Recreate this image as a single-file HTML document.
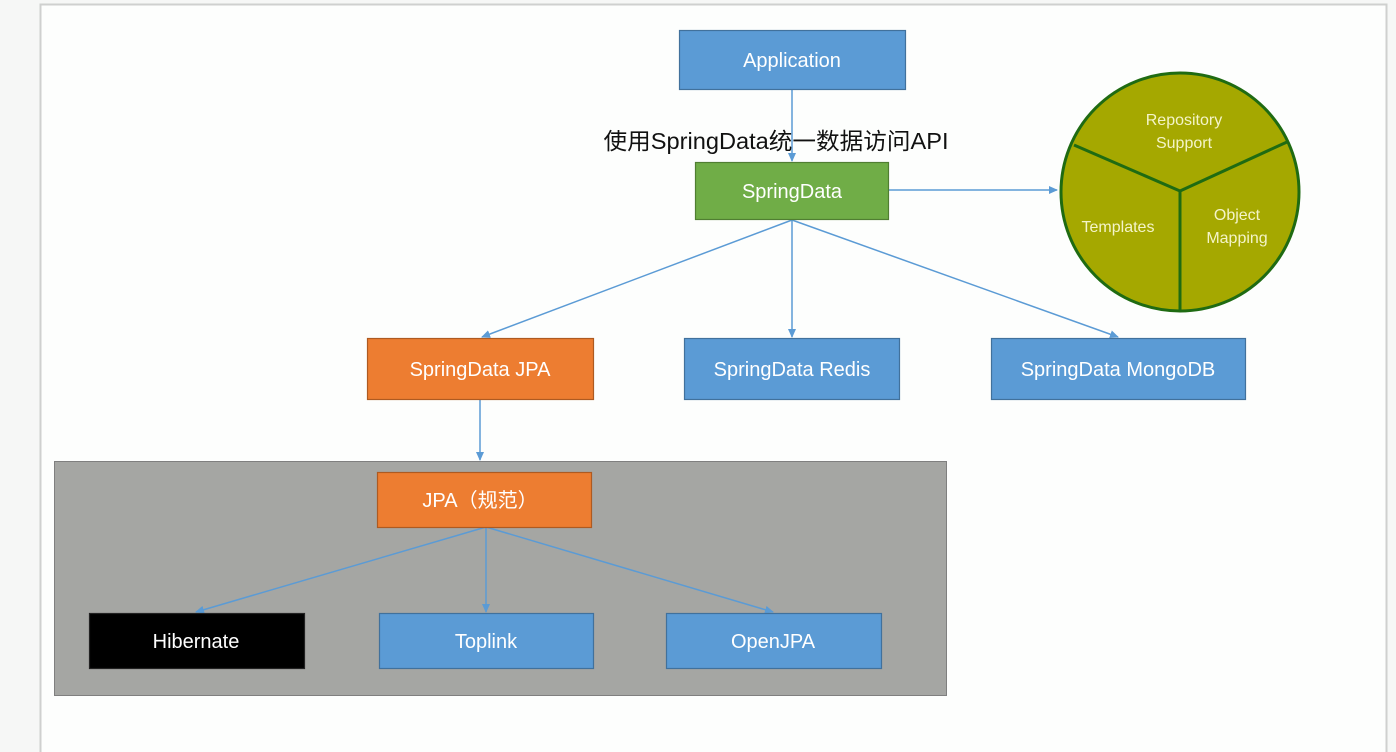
<!DOCTYPE html>
<html><head><meta charset="utf-8"><style>
html,body{margin:0;padding:0;background:#f7f8f7;}
svg{display:block}
text{font-family:"Liberation Sans","Noto Sans CJK SC",sans-serif;}
</style></head><body>
<svg width="1396" height="752" viewBox="0 0 1396 752" xmlns="http://www.w3.org/2000/svg">
<defs>
<marker id="a" markerWidth="10" markerHeight="10" refX="8" refY="4" orient="auto" markerUnits="userSpaceOnUse">
<path d="M0,0 L9,4 L0,8 z" fill="#5b9bd5"/></marker>
</defs>
<rect x="0" y="0" width="1396" height="752" fill="#f6f7f6"/>
<rect x="40.5" y="4.5" width="1346" height="760" fill="#fdfefd" stroke="#cfd0cf" stroke-width="2"/>
<rect x="54.5" y="461.5" width="892" height="234" fill="#a5a6a3" stroke="#7f7f7f"/>
<g stroke="#5b9bd5" stroke-width="1.5" fill="none" marker-end="url(#a)">
<line x1="792" y1="89" x2="792" y2="161"/>
<line x1="792" y1="220" x2="482" y2="337"/>
<line x1="792" y1="220" x2="792" y2="337"/>
<line x1="792" y1="220" x2="1118" y2="337"/>
<line x1="888" y1="190" x2="1057" y2="190"/>
<line x1="480" y1="399" x2="480" y2="460"/>
<line x1="486" y1="527" x2="196" y2="612"/>
<line x1="486" y1="527" x2="486" y2="612"/>
<line x1="486" y1="527" x2="773" y2="612"/>
</g>
<g stroke-width="1.2" font-size="20" fill="#fff" text-anchor="middle">
<rect x="679.5" y="30.5" width="226" height="59" fill="#5b9bd5" stroke="#41719c"/>
<text x="792" y="67" fill="#fff" stroke="none">Application</text>
<rect x="695.5" y="162.5" width="193" height="57" fill="#70ad47" stroke="#507e32"/>
<text x="792" y="198" fill="#fff" stroke="none">SpringData</text>
<rect x="367.5" y="338.5" width="226" height="61" fill="#ed7d31" stroke="#ae5a21"/>
<text x="480" y="376" fill="#fff" stroke="none">SpringData JPA</text>
<rect x="684.5" y="338.5" width="215" height="61" fill="#5b9bd5" stroke="#41719c"/>
<text x="792" y="376" fill="#fff" stroke="none">SpringData Redis</text>
<rect x="991.5" y="338.5" width="254" height="61" fill="#5b9bd5" stroke="#41719c"/>
<text x="1118" y="376" fill="#fff" stroke="none">SpringData MongoDB</text>
<rect x="377.5" y="472.5" width="214" height="55" fill="#ed7d31" stroke="#ae5a21"/>
<text x="480" y="507" fill="#fff" stroke="none">JPA（规范）</text>
<rect x="89.5" y="613.5" width="215" height="55" fill="#000" stroke="#222"/>
<text x="196" y="648" fill="#fff" stroke="none">Hibernate</text>
<rect x="379.5" y="613.5" width="214" height="55" fill="#5b9bd5" stroke="#41719c"/>
<text x="486" y="648" fill="#fff" stroke="none">Toplink</text>
<rect x="666.5" y="613.5" width="215" height="55" fill="#5b9bd5" stroke="#41719c"/>
<text x="773" y="648" fill="#fff" stroke="none">OpenJPA</text>
</g>
<text x="776" y="149" font-size="23" fill="#111" text-anchor="middle" textLength="345" lengthAdjust="spacingAndGlyphs">使用SpringData统一数据访问API</text>
<circle cx="1180" cy="192" r="119" fill="#a5a800" stroke="#1f6b12" stroke-width="3"/>
<g stroke="#1f6b12" stroke-width="3">
<line x1="1180" y1="191" x2="1074" y2="145"/>
<line x1="1180" y1="191" x2="1287" y2="142"/>
<line x1="1180" y1="191" x2="1180" y2="311"/>
</g>
<g font-size="16" fill="#f4f4c8" text-anchor="middle">
<text x="1184" y="125">Repository</text>
<text x="1184" y="148">Support</text>
<text x="1118" y="232">Templates</text>
<text x="1237" y="220">Object</text>
<text x="1237" y="243">Mapping</text>
</g>
</svg>
</body></html>
